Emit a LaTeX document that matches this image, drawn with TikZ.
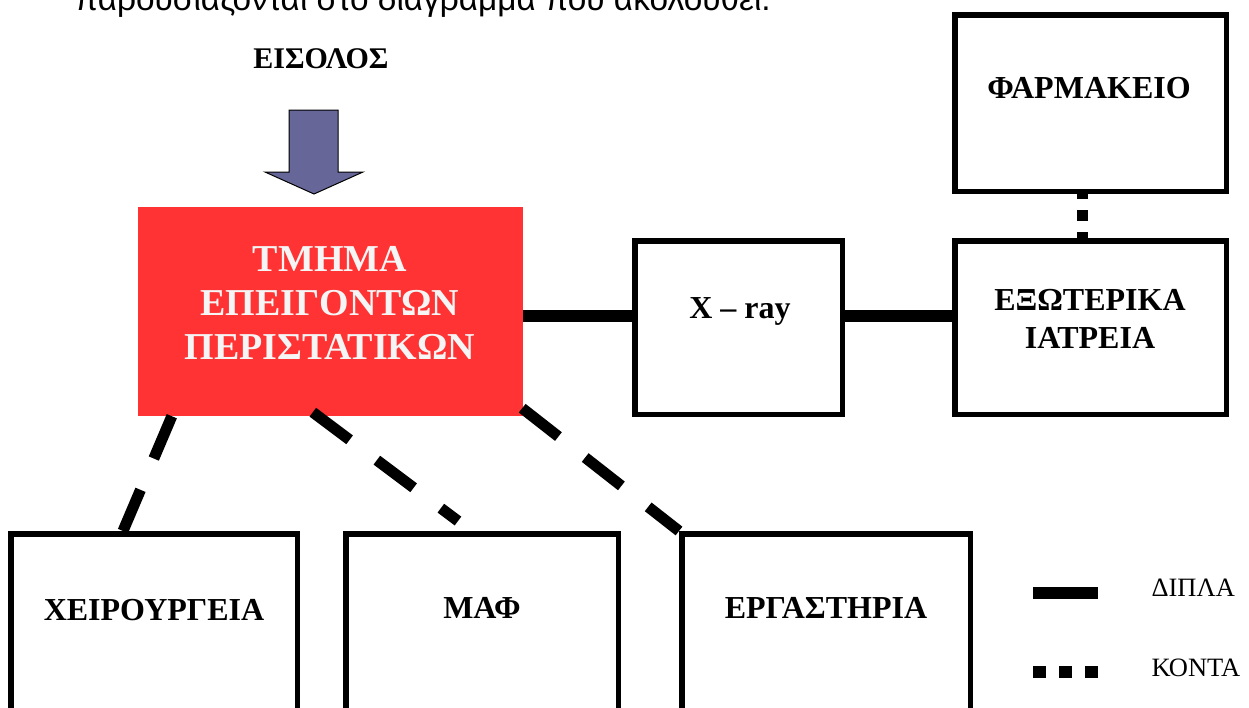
\documentclass[tikz,border=0pt]{standalone}
\usepackage{fontspec}
\setmainfont{Liberation Serif}
\newfontfamily\introfont{Liberation Sans}
\definecolor{tmred}{RGB}{255,51,51}
\definecolor{arrowblue}{RGB}{102,102,153}
\tikzset{
  unitbox/.style={draw, line width=5.5pt, inner sep=0pt, minimum width=271.5pt, minimum height=176.5pt},
  lbl/.style={font=\bfseries\fontsize{32}{38}\selectfont, align=center},
  legtxt/.style={font=\fontsize{26.5}{30}\selectfont, anchor=base west},
  diplaline/.style={line width=11.5pt},
  kontaline/.style={line width=11pt, dash pattern=on 11pt off 11pt, dash phase=6pt},
  linkline/.style={line width=11pt, dash pattern=on 46pt off 34pt},
}
\begin{document}
\begin{tikzpicture}[x=1pt,y=-1pt]
        \useasboundingbox (0,0) rectangle (1249,707);
        \clip (0,0) rectangle (1249,707);

        % cut text line at the top
        \node[anchor=base west, inner sep=0pt, font=\introfont\fontsize{33.4}{40}\selectfont] (intro) at (75,10) {παρουσιάζονται στο διάγραμμα που ακολουθεί.};

        % entrance
        \node[font=\bfseries\fontsize{30}{34}\selectfont, anchor=base] (eisodos) at (321,68) {ΕΙΣΟΛΟΣ};
        \filldraw[fill=arrowblue, draw=black, line width=1pt] (289,110) -- (338,110) -- (338,172) -- (363,172) -- (314,194) -- (265,172) -- (289,172) -- cycle;

        % boxes
        \node[fill=tmred, inner sep=0pt, minimum width=385pt, minimum height=209pt] (ted) at (330.5,311.5) {};
        \node[font=\bfseries\fontsize{38}{44}\selectfont, align=center, text=white!96!black] (tedtxt) at (330,303) {ΤΜΗΜΑ\\ΕΠΕΙΓΟΝΤΩΝ\\ΠΕΡΙΣΤΑΤΙΚΩΝ};
        \node[unitbox, minimum width=207.5pt, minimum height=173.5pt] (xray) at (738.5,327.5) {};
        \node[unitbox, minimum height=173.5pt] (ext) at (1090.5,327.5) {};
        \node[unitbox] (farm) at (1090.5,103) {};
        \node[unitbox, minimum width=286.5pt] (xeir) at (154,622) {};
        \node[unitbox, minimum width=272.5pt] (maf) at (482,622) {};
        \node[unitbox, minimum width=288.5pt] (erg) at (826,622) {};

        \node[lbl, anchor=base] (xraytxt) at (740,318) {X – ray};
        \node[lbl] (exttxt) at (1090,319) {ΕΞΩΤΕΡΙΚΑ\\ΙΑΤΡΕΙΑ};
        \node[lbl, anchor=base] (farmtxt) at (1089,98) {ΦΑΡΜΑΚΕΙΟ};
        \node[lbl, anchor=base] (xeirtxt) at (154,620) {ΧΕΙΡΟΥΡΓΕΙΑ};
        \node[lbl, anchor=base] (maftxt) at (482,618) {ΜΑΦ};
        \node[lbl, anchor=base] (ergtxt) at (826,618) {ΕΡΓΑΣΤΗΡΙΑ};

        % connections
        \coordinate (midline) at (0,316);
        \coordinate (dotx) at (1082,0);
        \draw[diplaline] (ted.east |- midline) -- (xray.west |- midline);
        \draw[diplaline] (xray.east |- midline) -- (ext.west |- midline);
        \draw[kontaline] (farm.south -| dotx) -- (ext.north -| dotx);
        \draw[linkline] ([xshift=34pt]ted.south west) -- ([xshift=-31pt]xeir.north);
        \draw[linkline] ([xshift=175pt,yshift=4pt]ted.south west) -- ([xshift=-24pt,yshift=10pt]maf.north);
        \draw[linkline] ([xshift=-1pt,yshift=8pt]ted.south east) -- (erg.north west);

        % legend
        \coordinate (dipa) at (1033,593);
        \coordinate (dipb) at (1098,593);
        \coordinate (kona) at (1033,672);
        \coordinate (konb) at (1098,672);
        \draw[line width=12pt] (dipa) -- (dipb);
        \draw[line width=12pt, dash pattern=on 13pt off 13pt] (kona) -- (konb);
        \node[legtxt] (diplatxt) at (1148,596) {ΔΙΠΛΑ};
        \node[legtxt] (kontatxt) at (1148,676) {ΚΟΝΤΑ};
    \end{tikzpicture}
\end{document}
